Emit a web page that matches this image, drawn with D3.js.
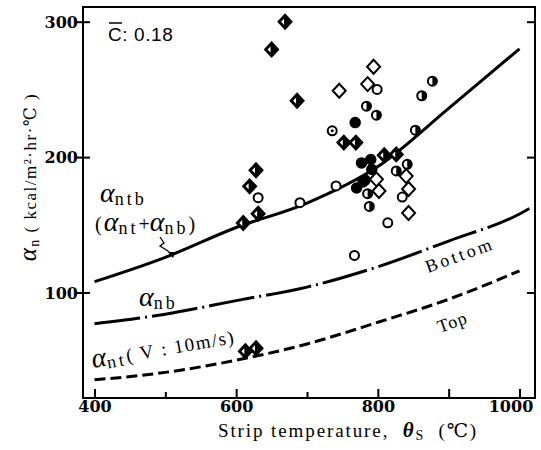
<!DOCTYPE html>
<meta charset="utf-8">
<style type="text/css">
body {
  margin: 0;
  background: #fff;
}
svg text {
  fill: #000;
}
.tick-label {
  font-family: "DejaVu Serif", serif;
  font-weight: bold;
  font-size: 16px;
}
.serif {
  font-family: "Liberation Serif", "DejaVu Serif", serif;
}
</style>
<body>
<script src="https://d3js.org/d3.v7.min.js"></script>
<script>
// ---- data ----
var curveTemps = [400, 500, 600, 700, 800, 900, 1000];
var antbValues = [108, 126, 148, 166, 193, 236, 280];
var anbValues  = [77, 84, 94, 104, 119, 138, 158];
var antValues  = [35.5, 41, 50, 62, 78, 95, 116];

var xTicks = [400, 600, 800, 1000];
var xMinorTicks = [500, 700, 900];
var yTicks = [100, 200, 300];

// measured points: [temperature, alpha]
var diamondFilled = [[669, 300], [650, 279.5], [686, 241.6], [628, 190.3], [619, 178.4],
  [631, 158.2], [610, 151.3], [613, 56.6], [628, 58.8], [752, 210.7], [769, 210.7],
  [809, 201.4], [826, 202]];
var diamondOpen = [[794, 266.7], [745.5, 249], [785.6, 253.9], [798, 183.6], [801.6, 175],
  [840, 186], [843.4, 176.4], [843.4, 158.7]];
var circleOpen = [[799, 250], [631, 170], [690, 166.3], [741, 178.7], [814, 151.5],
  [767, 127.4], [834.5, 170.5]];
var circleFilled = [[768, 225.5], [777, 195.7], [790, 198.2], [791.5, 190.8], [779, 181.6],
  [770, 177.2], [782, 183]];
var circleHalf = [[784, 237.6], [798, 231], [788, 163.6], [785.6, 173], [826, 189.8],
  [841.5, 194.7], [853, 219.9], [862, 245.3], [877, 256.1]];
var circleDot = [[735.6, 219.4]];

var width = 541, height = 450;
var frame = { left: 83, right: 535, top: 7, bottom: 398 };

var svg = d3.select("body").append("svg")
  .attr("width", width)
  .attr("height", height);

var x = d3.scaleLinear().domain([400, 1000]).range([94.5, 519.5]);
var y = d3.scaleLinear().domain([100, 300]).range([292.5, 21.7]);

// frame
svg.append("rect")
  .attr("x", frame.left).attr("y", frame.top)
  .attr("width", frame.right - frame.left)
  .attr("height", frame.bottom - frame.top)
  .attr("fill", "none").attr("stroke", "#000").attr("stroke-width", 2);

// y axis: ticks crossing the left frame, inward ticks on the right
var gy = svg.append("g")
  .attr("transform", "translate(" + frame.left + ",0)")
  .call(d3.axisLeft(y).tickValues(yTicks).tickSize(8).tickFormat(d3.format("d")));
gy.select(".domain").remove();
gy.selectAll(".tick line").attr("x2", -8).attr("x1", 7).attr("stroke-width", 2);
gy.selectAll(".tick text").attr("class", "tick-label").attr("x", -5).attr("dy", "0.36em");

var gyr = svg.append("g")
  .attr("transform", "translate(" + frame.right + ",0)")
  .call(d3.axisRight(y).tickValues(yTicks).tickSize(-8).tickFormat(""));
gyr.select(".domain").remove();
gyr.selectAll(".tick line").attr("stroke-width", 2);

// x axis: inward ticks
var gx = svg.append("g")
  .attr("transform", "translate(0," + frame.bottom + ")")
  .call(d3.axisBottom(x).tickValues(xTicks).tickSize(-9).tickFormat(d3.format("d")));
gx.select(".domain").remove();
gx.selectAll(".tick line").attr("stroke-width", 2);
gx.selectAll(".tick text").attr("class", "tick-label").attr("y", 3).attr("dy", "0.71em");
gx.selectAll(".tick").filter(function(d) { return d == 1000; })
  .select("text").attr("x", -9);

var gxm = svg.append("g")
  .attr("transform", "translate(0," + frame.bottom + ")")
  .call(d3.axisBottom(x).tickValues(xMinorTicks).tickSize(-6).tickFormat(""));
gxm.select(".domain").remove();
gxm.selectAll(".tick line").attr("stroke-width", 2);
gxm.selectAll(".tick").filter(function(d) { return d == 900; })
  .select("line").attr("y2", -9);

// curves
function curveData(vals) {
  return curveTemps.map(function(t, i) { return [t, vals[i]]; });
}
var line = d3.line()
  .x(function(d) { return x(d[0]); })
  .y(function(d) { return y(d[1]); })
  .curve(d3.curveMonotoneX);

svg.append("path")
  .datum(curveData(antbValues))
  .attr("d", line)
  .attr("fill", "none").attr("stroke", "#000").attr("stroke-width", 3);

svg.append("path")
  .datum(curveData(anbValues).concat([[1014, 162]]))
  .attr("d", line)
  .attr("fill", "none").attr("stroke", "#000").attr("stroke-width", 3)
  .attr("stroke-dasharray", "46,5,2,5");

svg.append("path")
  .datum(curveData(antValues))
  .attr("d", line)
  .attr("fill", "none").attr("stroke", "#000").attr("stroke-width", 3)
  .attr("stroke-dasharray", "11,5");

// markers
var diamond = "M0,-7L6.5,0L0,7L-6.5,0Z";

svg.selectAll(".dopen").data(diamondOpen).enter().append("path")
  .attr("d", diamond)
  .attr("transform", function(d) { return "translate(" + x(d[0]) + "," + y(d[1]) + ")"; })
  .attr("fill", "#fff").attr("stroke", "#000").attr("stroke-width", 2);

var df = svg.selectAll(".dfill").data(diamondFilled).enter().append("g")
  .attr("transform", function(d) { return "translate(" + x(d[0]) + "," + y(d[1]) + ")"; });
df.append("path").attr("d", diamond)
  .attr("fill", "#000").attr("stroke", "#000").attr("stroke-width", 2);
df.append("path").attr("d", "M-4,0L-1,-3L-1,3Z").attr("fill", "#fff");

svg.selectAll(".copen").data(circleOpen).enter().append("circle")
  .attr("cx", function(d) { return x(d[0]); })
  .attr("cy", function(d) { return y(d[1]); })
  .attr("r", 4.5)
  .attr("fill", "#fff").attr("stroke", "#000").attr("stroke-width", 2);

svg.selectAll(".cfill").data(circleFilled).enter().append("circle")
  .attr("cx", function(d) { return x(d[0]); })
  .attr("cy", function(d) { return y(d[1]); })
  .attr("r", 5)
  .attr("fill", "#000").attr("stroke", "#000").attr("stroke-width", 1.5);

var ch = svg.selectAll(".chalf").data(circleHalf).enter().append("g")
  .attr("transform", function(d) { return "translate(" + x(d[0]) + "," + y(d[1]) + ")"; });
ch.append("circle").attr("r", 4.5)
  .attr("fill", "#fff").attr("stroke", "#000").attr("stroke-width", 2);
ch.append("path").attr("d", "M0,-4.5A4.5,4.5 0 0,1 0,4.5Z").attr("fill", "#000");

var cd = svg.selectAll(".cdot").data(circleDot).enter().append("g")
  .attr("transform", function(d) { return "translate(" + x(d[0]) + "," + y(d[1]) + ")"; });
cd.append("circle").attr("r", 4.5)
  .attr("fill", "#fff").attr("stroke", "#000").attr("stroke-width", 2);
cd.append("circle").attr("r", 1.5).attr("fill", "#000");

// texts
svg.append("text")
  .attr("class", "serif")
  .attr("x", 348).attr("y", 437)
  .attr("text-anchor", "middle")
  .style("font-size", "19px")
  .style("letter-spacing", "1.9px")
  .html('Strip temperature,\u00a0 <tspan font-weight="bold" font-style="italic" font-size="21px">θ</tspan><tspan font-size="14px" dy="3">S</tspan><tspan dy="-3">\u00a0 (℃)</tspan>');

svg.append("text")
  .attr("class", "serif")
  .attr("transform", "translate(36,177) rotate(-90)")
  .attr("text-anchor", "middle")
  .style("font-size", "17px")
  .style("letter-spacing", "1.5px")
  .html('<tspan font-style="italic" font-size="25px">α</tspan><tspan font-size="14px" dy="3">n</tspan><tspan dy="-3">\u00a0(\u00a0kcal/m²·hr·℃\u00a0)</tspan>');

svg.append("text")
  .attr("x", 108).attr("y", 41)
  .style("font-family", "'Liberation Sans', Arial, sans-serif")
  .style("font-size", "19px")
  .style("letter-spacing", "0.6px")
  .text("C: 0.18");
svg.append("line")
  .attr("x1", 109).attr("x2", 122).attr("y1", 23).attr("y2", 23)
  .attr("stroke", "#000").attr("stroke-width", 1.5);

// curve labels
function alphaLabel(g, sub, size, subSize) {
  g.append("tspan").attr("font-style", "italic").attr("font-size", size + "px").text("α");
  g.append("tspan").attr("font-size", subSize + "px").attr("dy", 3).attr("letter-spacing", "3px").text(sub);
}
var l1 = svg.append("text").attr("class", "serif").attr("x", 100).attr("y", 202);
alphaLabel(l1, "ntb", 28, 18);

var l2 = svg.append("text").attr("class", "serif").attr("x", 95).attr("y", 231).style("font-size", "20px");
l2.append("tspan").attr("letter-spacing", "2px").text("(");
alphaLabel(l2, "nt", 28, 18);
l2.append("tspan").attr("dy", -3).text("+");
alphaLabel(l2, "nb", 28, 18);
l2.append("tspan").attr("dy", -3).text(")");

// squiggle arrow to the solid curve
svg.append("path")
  .attr("d", "M160,237 L164,243 L160,246 L168,251 L173,257")
  .attr("fill", "none").attr("stroke", "#000").attr("stroke-width", 1.3);
svg.append("path")
  .attr("d", "M173,258 L169,252 L175,252 Z")
  .attr("fill", "#000");

var l3 = svg.append("text").attr("class", "serif").attr("x", 139).attr("y", 306);
alphaLabel(l3, "nb", 28, 18);

var l4 = svg.append("text").attr("class", "serif")
  .attr("transform", "translate(93,368) rotate(-10)")
  .style("font-size", "19px");
alphaLabel(l4, "nt", 28, 18);
l4.append("tspan").attr("dy", -3).attr("letter-spacing", "1.5px").text("(\u00a0V\u00a0:\u00a010m/s)");

svg.append("text").attr("class", "serif")
  .attr("transform", "translate(428,273) rotate(-20)")
  .style("font-size", "18px").style("letter-spacing", "3px")
  .text("Bottom");

svg.append("text").attr("class", "serif")
  .attr("transform", "translate(440,333) rotate(-20)")
  .style("font-size", "18px").style("letter-spacing", "1px")
  .text("Top");
</script>
</body>
